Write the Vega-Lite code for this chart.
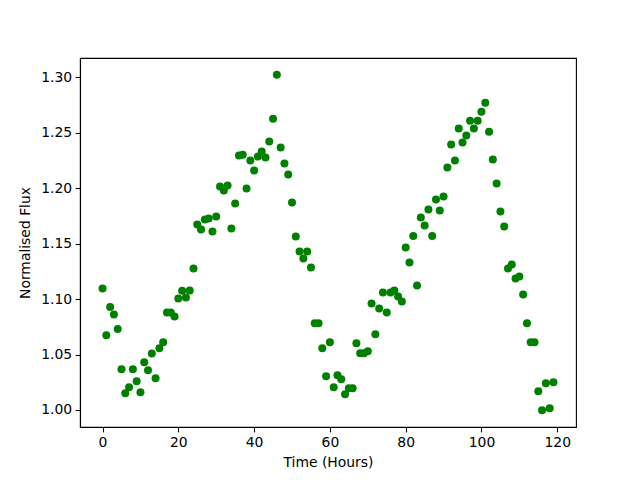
{
  "$schema": "https://vega.github.io/schema/vega-lite/v6.json",
  "width": 496,
  "height": 369,
  "autosize": {"type": "none"},
  "padding": {"left": 80, "top": 58, "right": 64, "bottom": 53},
  "background": "white",
  "config": {
    "font": "DejaVu Sans",
    "view": {"stroke": "black", "strokeWidth": 1.1},
    "axis": {
      "grid": false,
      "domainColor": "black",
      "domainWidth": 1.1,
      "tickColor": "black",
      "tickWidth": 1.1,
      "tickSize": 4.86,
      "labelFont": "DejaVu Sans",
      "labelFontSize": 13.9,
      "labelColor": "black",
      "labelPadding": 3.5,
      "titleFont": "DejaVu Sans",
      "titleFontSize": 13.9,
      "titleFontWeight": "normal",
      "titleColor": "black"
    }
  },
  "data": {
    "values": [
      {"time": 0, "flux": 1.1096}, {"time": 1, "flux": 1.0673}, {"time": 2, "flux": 1.0928}, {"time": 3, "flux": 1.0862},
      {"time": 4, "flux": 1.073}, {"time": 5, "flux": 1.0367}, {"time": 6, "flux": 1.015}, {"time": 7, "flux": 1.0204},
      {"time": 8, "flux": 1.0367}, {"time": 9, "flux": 1.0258}, {"time": 10, "flux": 1.016}, {"time": 11, "flux": 1.043},
      {"time": 12, "flux": 1.0357}, {"time": 13, "flux": 1.051}, {"time": 14, "flux": 1.0286}, {"time": 15, "flux": 1.0556},
      {"time": 16, "flux": 1.061}, {"time": 17, "flux": 1.088}, {"time": 18, "flux": 1.088}, {"time": 19, "flux": 1.0844},
      {"time": 20, "flux": 1.1006}, {"time": 21, "flux": 1.1075}, {"time": 22, "flux": 1.1015}, {"time": 23, "flux": 1.1078},
      {"time": 24, "flux": 1.1277}, {"time": 25, "flux": 1.1673}, {"time": 26, "flux": 1.1628}, {"time": 27, "flux": 1.1718},
      {"time": 28, "flux": 1.1727}, {"time": 29, "flux": 1.161}, {"time": 30, "flux": 1.1745}, {"time": 31, "flux": 1.2015},
      {"time": 32, "flux": 1.198}, {"time": 33, "flux": 1.2024}, {"time": 34, "flux": 1.1637}, {"time": 35, "flux": 1.1862},
      {"time": 36, "flux": 1.2295}, {"time": 37, "flux": 1.2303}, {"time": 38, "flux": 1.1997}, {"time": 39, "flux": 1.225},
      {"time": 40, "flux": 1.216}, {"time": 41, "flux": 1.2286}, {"time": 42, "flux": 1.2331}, {"time": 43, "flux": 1.2277},
      {"time": 44, "flux": 1.2421}, {"time": 45, "flux": 1.2628}, {"time": 46, "flux": 1.3024}, {"time": 47, "flux": 1.2367},
      {"time": 48, "flux": 1.2223}, {"time": 49, "flux": 1.2123}, {"time": 50, "flux": 1.1871}, {"time": 51, "flux": 1.1565},
      {"time": 52, "flux": 1.143}, {"time": 53, "flux": 1.1367}, {"time": 54, "flux": 1.143}, {"time": 55, "flux": 1.1286},
      {"time": 56, "flux": 1.0781}, {"time": 57, "flux": 1.0781}, {"time": 58, "flux": 1.0556}, {"time": 59, "flux": 1.0304},
      {"time": 60, "flux": 1.061}, {"time": 61, "flux": 1.0204}, {"time": 62, "flux": 1.0313}, {"time": 63, "flux": 1.0277},
      {"time": 64, "flux": 1.0141}, {"time": 65, "flux": 1.0195}, {"time": 66, "flux": 1.0195}, {"time": 67, "flux": 1.0601},
      {"time": 68, "flux": 1.0511}, {"time": 69, "flux": 1.0511}, {"time": 70, "flux": 1.0529}, {"time": 71, "flux": 1.0961},
      {"time": 72, "flux": 1.0682}, {"time": 73, "flux": 1.0916}, {"time": 74, "flux": 1.106}, {"time": 75, "flux": 1.088},
      {"time": 76, "flux": 1.106}, {"time": 77, "flux": 1.1078}, {"time": 78, "flux": 1.1024}, {"time": 79, "flux": 1.0979},
      {"time": 80, "flux": 1.1466}, {"time": 81, "flux": 1.133}, {"time": 82, "flux": 1.157}, {"time": 83, "flux": 1.1123},
      {"time": 84, "flux": 1.1736}, {"time": 85, "flux": 1.1664}, {"time": 86, "flux": 1.1808}, {"time": 87, "flux": 1.157},
      {"time": 88, "flux": 1.1898}, {"time": 89, "flux": 1.18}, {"time": 90, "flux": 1.1925}, {"time": 91, "flux": 1.2186},
      {"time": 92, "flux": 1.2394}, {"time": 93, "flux": 1.225}, {"time": 94, "flux": 1.2538}, {"time": 95, "flux": 1.2412},
      {"time": 96, "flux": 1.2475}, {"time": 97, "flux": 1.261}, {"time": 98, "flux": 1.2538}, {"time": 99, "flux": 1.261},
      {"time": 100, "flux": 1.2691}, {"time": 101, "flux": 1.2772}, {"time": 102, "flux": 1.251}, {"time": 103, "flux": 1.2259},
      {"time": 104, "flux": 1.2042}, {"time": 105, "flux": 1.179}, {"time": 106, "flux": 1.1655}, {"time": 107, "flux": 1.1277},
      {"time": 108, "flux": 1.1313}, {"time": 109, "flux": 1.1186}, {"time": 110, "flux": 1.1204}, {"time": 111, "flux": 1.1042},
      {"time": 112, "flux": 1.0781}, {"time": 113, "flux": 1.061}, {"time": 114, "flux": 1.061}, {"time": 115, "flux": 1.0168},
      {"time": 116, "flux": 0.9997}, {"time": 117, "flux": 1.024}, {"time": 118, "flux": 1.0015}, {"time": 119, "flux": 1.025}
    ]
  },
  "mark": {"type": "circle", "color": "#008000", "size": 64, "opacity": 1},
  "encoding": {
    "x": {
      "field": "time",
      "type": "quantitative",
      "scale": {"domain": [-5.95, 124.95], "nice": false, "zero": false},
      "axis": {"values": [0, 20, 40, 60, 80, 100, 120], "title": "Time (Hours)", "titlePadding": 6}
    },
    "y": {
      "field": "flux",
      "type": "quantitative",
      "scale": {"domain": [0.9846, 1.3175], "nice": false, "zero": false},
      "axis": {"values": [1.0, 1.05, 1.1, 1.15, 1.2, 1.25, 1.3], "format": ".2f", "title": "Normalised Flux", "titlePadding": 8}
    }
  }
}
